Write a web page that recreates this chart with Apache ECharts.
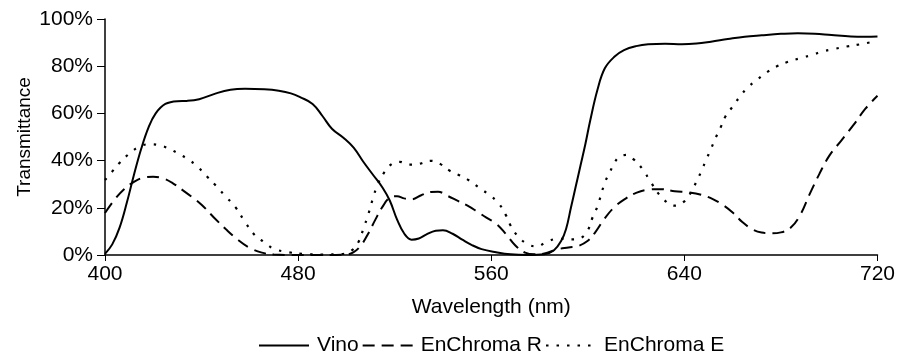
<!DOCTYPE html>
<html>
<head>
<meta charset="utf-8">
<script src="https://cdn.jsdelivr.net/npm/echarts@6/dist/echarts.min.js"></script>
<style>html,body{margin:0;padding:0;background:#fff}#c{width:898px;height:354px}</style>
</head>
<body>
<div id="c"></div>
<script>
const seriesNames = ['Vino', 'EnChroma R', 'EnChroma E'];
const xTicks = [400, 480, 560, 640, 720];
const yTicks = [0, 20, 40, 60, 80, 100];

const vinoWl = [400,403,406,409,412,415,418,421,425,430,434,439,446,452,458,466,472,477,481,486,490,494,499,503,507,511,515,518,521,524,527,530,533,537,540,544,548,552,556,562,568,575,582,586,589,591,593,595,597,599,601,604,607,611,615,620,625,632,639,645,651,658,665,672,680,687,694,701,709,715,720];
const vinoVal = [0.5,4.5,11.5,22,34,45,54,60,64,65.2,65.3,66,68.5,70,70.4,70.2,69.6,68.5,66.8,64,59,53.5,49.5,45.5,39.5,34,28.5,23,15,9,6.5,7,8.6,10.3,10.5,9,6.5,4.2,2.5,1.2,0.3,0,0.3,2,6,11,20,29,38,47,57,70,79,84,86.8,88.5,89.3,89.5,89.3,89.6,90.4,91.5,92.5,93.1,93.7,94,93.8,93.2,92.6,92.5,92.6];

const rWl = [400,404,408,412,416,420,424,428,432,436,440,445,450,455,460,465,470,480,490,500,503,506,509,512,515,518,521,524,527,531,535,538,542,546,550,554,558,562,566,570,574,578,582,587,592,596,600,603,607,611,615,620,625,630,636,642,647,652,656,660,664,668,672,676,680,684,688,692,696,700,705,710,715,720];
const rVal = [17.8,23.5,28,31,32.8,33.2,32.5,30.5,27.6,24.6,21.3,16,11,6.5,3,1,0.2,0,0,0.2,1.2,4,9,15,20.5,24.3,24.9,24,23.6,25.3,26.7,26.8,25,23,21,18.5,15.8,13.3,9,4,1,0.3,0.6,2.3,3.2,3.8,6,9.5,15.5,20.3,23.5,26.3,27.7,27.9,27,26.5,25.5,23.6,21.2,18,14,11,9.5,9.2,9.6,11.5,17,26,34.5,42,48.5,55,62,67.5];

const eWl = [400,403,406,410,414,418,422,426,430,434,438,442,446,450,454,458,462,466,470,476,482,490,498,502,505,507,509,511,513,516,519,522,526,530,535,539,543,547,551,555,559,563,566,568,571,575,579,583,588,593,597,600,602,604,607,609,611,613,616,619,623,626,631,636,640,643,645,647,649,651,653,655,657,660,663,666,670,674,678,683,688,693,697,702,707,713,717,720];
const eVal = [31.8,35.4,39,42.9,45.8,46.9,46.6,45.3,43.2,40.8,37.8,33.5,29.3,24.8,20.3,14,8.5,5.4,2.6,1.2,0.5,0.2,0.4,1.8,5.5,11,17,24,30,35.5,38.7,39.5,38.3,38.6,39.9,38.5,35.6,33.7,31.5,28.5,25.6,22,17,12.5,8,4.6,3.6,5.6,6.9,6.6,7.2,10.5,16,20.6,30.5,34.8,39,41.5,42.4,40.5,36,31,24,20.9,22.7,27,31.1,35.4,40.3,44.9,49.8,54,58.7,62.9,67.1,70.7,74.2,77.3,79.8,81.9,83.4,84.8,86.2,87.3,88.3,89.3,90.1,90.6];

function pairs(xs, ys) { return xs.map((x, i) => [x, ys[i]]); }

const FONT = '"Liberation Sans", Arial, sans-serif';
const chart = echarts.init(document.getElementById('c'), null, {renderer: 'canvas'});
chart.setOption({
  animation: false,
  backgroundColor: '#fff',
  textStyle: {fontFamily: FONT, color: '#000'},
  grid: {left: 105, right: 19, top: 19, bottom: 99, containLabel: false},
  xAxis: {
    type: 'value', min: xTicks[0], max: xTicks[xTicks.length - 1], interval: 80,
    name: 'Wavelength (nm)', nameLocation: 'middle', nameGap: 42,
    nameTextStyle: {fontSize: 21, color: '#000', fontFamily: FONT},
    axisLine: {show: true, lineStyle: {color: '#000', width: 1.5}},
    axisTick: {show: true, length: 6, lineStyle: {color: '#000'}},
    axisLabel: {fontSize: 21, color: '#000', margin: 9, fontFamily: FONT},
    splitLine: {show: false}
  },
  yAxis: {
    type: 'value', min: yTicks[0], max: yTicks[yTicks.length - 1], interval: 20,
    name: 'Transmittance', nameLocation: 'middle', nameGap: 71, nameMoveOverlap: false,
    nameTextStyle: {fontSize: 19, color: '#000', fontFamily: FONT},
    axisLine: {show: true, lineStyle: {color: '#000', width: 1.5}},
    axisTick: {show: true, length: 8, lineStyle: {color: '#000'}},
    axisLabel: {fontSize: 21, color: '#000', margin: 12, formatter: '{value}%', fontFamily: FONT},
    splitLine: {show: false}
  },
  legend: {
    left: 253, top: 330, itemWidth: 50, itemHeight: 14, itemGap: 3,
    itemStyle: {color: 'transparent', borderColor: 'transparent', borderWidth: 0, opacity: 0},
    textStyle: {fontSize: 21, color: '#000', fontFamily: FONT, padding: [0, 0, 0, 3]},
    data: seriesNames
  },
  series: [
    {name: seriesNames[0], type: 'line', smooth: 0.4, symbol: 'none', data: pairs(vinoWl, vinoVal),
     lineStyle: {color: '#000', width: 2, type: 'solid'}, itemStyle: {color: '#000'}},
    {name: seriesNames[1], type: 'line', smooth: 0.4, symbol: 'none', data: pairs(rWl, rVal),
     lineStyle: {color: '#000', width: 2, type: [12, 7]}, itemStyle: {color: '#000'}},
    {name: seriesNames[2], type: 'line', smooth: 0.4, symbol: 'none', data: pairs(eWl, eVal),
     lineStyle: {color: '#000', width: 2.2, type: [2.5, 8]}, itemStyle: {color: '#000'}}
  ]
});
</script>
</body>
</html>
